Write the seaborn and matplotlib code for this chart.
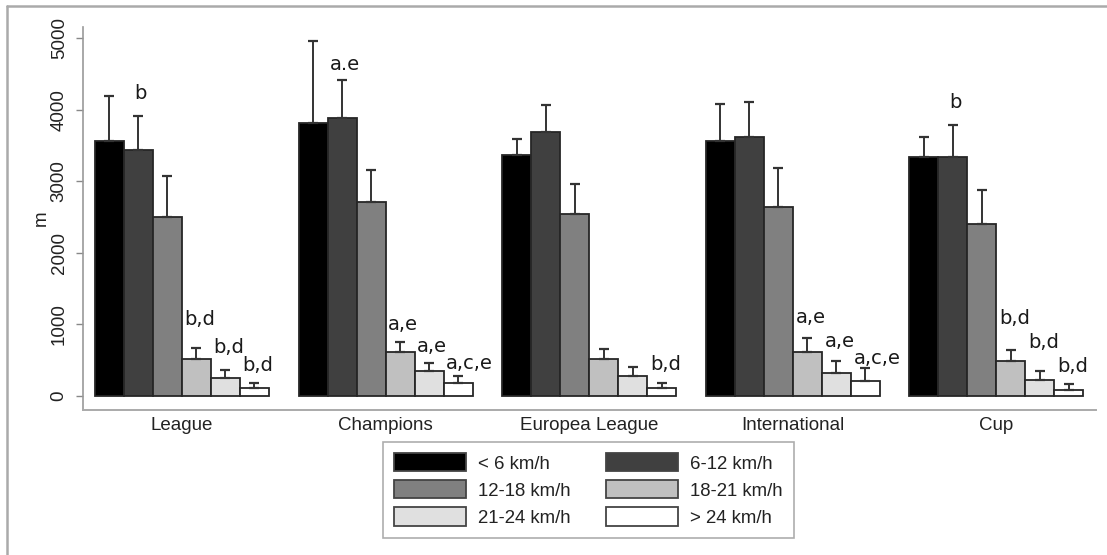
import matplotlib
matplotlib.use("Agg")
import matplotlib.pyplot as plt
from matplotlib.lines import Line2D
import numpy as np
import pandas as pd
import seaborn as sns

# Distance covered (m) per speed band in each competition: mean and SD
competitions = ["League", "Champions", "Europea League", "International", "Cup"]
speed_bands = ["< 6 km/h", "6-12 km/h", "12-18 km/h", "18-21 km/h", "21-24 km/h", "> 24 km/h"]

mean_lt6 = [3556, 3813, 3370, 3566, 3343]
mean_6_12 = [3440, 3883, 3687, 3613, 3343]
mean_12_18 = [2496, 2714, 2537, 2644, 2398]
mean_18_21 = [517, 610, 521, 615, 493]
mean_21_24 = [256, 349, 279, 321, 228]
mean_gt24 = [107, 177, 107, 209, 84]

sd_lt6 = [638, 1149, 215, 508, 279]
sd_6_12 = [471, 530, 373, 497, 447]
sd_12_18 = [577, 442, 420, 545, 479]
sd_18_21 = [158, 148, 135, 191, 149]
sd_21_24 = [107, 112, 130, 172, 126]
sd_gt24 = [70, 107, 70, 186, 84]

# Significance letters: (competition, speed band, text, baseline height in m)
sig_labels = [
    ("League", "6-12 km/h", "b", 4148),
    ("League", "18-21 km/h", "b,d", 992),
    ("League", "21-24 km/h", "b,d", 605),
    ("League", "> 24 km/h", "b,d", 353),
    ("Champions", "6-12 km/h", "a.e", 4553),
    ("Champions", "18-21 km/h", "a,e", 922),
    ("Champions", "21-24 km/h", "a,e", 619),
    ("Champions", "> 24 km/h", "a,c,e", 377),
    ("Europea League", "> 24 km/h", "b,d", 363),
    ("International", "18-21 km/h", "a,e", 1015),
    ("International", "21-24 km/h", "a,e", 689),
    ("International", "> 24 km/h", "a,c,e", 447),
    ("Cup", "6-12 km/h", "b", 4018),
    ("Cup", "18-21 km/h", "b,d", 1006),
    ("Cup", "21-24 km/h", "b,d", 665),
    ("Cup", "> 24 km/h", "b,d", 339),
]

y_ticks = [0, 1000, 2000, 3000, 4000, 5000]

means = [mean_lt6, mean_6_12, mean_12_18, mean_18_21, mean_21_24, mean_gt24]
sds = [sd_lt6, sd_6_12, sd_12_18, sd_18_21, sd_21_24, sd_gt24]

rows = []
for band, m_list, s_list in zip(speed_bands, means, sds):
    for comp, m, s in zip(competitions, m_list, s_list):
        rows.append({"competition": comp, "speed": band, "m": m, "sd": s})
df = pd.DataFrame(rows)

sns.set_theme(style="white")
plt.rcParams["font.family"] = ["Liberation Sans", "DejaVu Sans"]

grays = ["#000000", "#404040", "#808080", "#c0c0c0", "#e0e0e0", "#ffffff"]

fig = plt.figure(figsize=(11.07, 5.55), dpi=100)
ax = fig.add_axes([83 / 1107, 1 - 410 / 555, (1096 - 83) / 1107, (410 - 27) / 555])

sns.barplot(
    data=df, x="competition", y="m", hue="speed",
    order=competitions, hue_order=speed_bands,
    palette=grays, errorbar=None, width=0.855, gap=0,
    edgecolor="#262626", linewidth=1.3, saturation=1, legend=False, ax=ax,
)

# one-sided (upper) SD whiskers on each bar
for band, container in zip(speed_bands, ax.containers):
    sub = df[df["speed"] == band].set_index("competition").loc[competitions]
    xs = np.array([p.get_x() + p.get_width() / 2 for p in container.patches])
    ax.errorbar(
        xs, sub["m"].values, yerr=[np.zeros(len(xs)), sub["sd"].values],
        fmt="none", ecolor="#333333", elinewidth=1.4, capsize=3.6, capthick=1.6,
        zorder=3,
    )

# significance letters above whiskers
for comp, band, text, ypos in sig_labels:
    patch = ax.containers[speed_bands.index(band)].patches[competitions.index(comp)]
    xc = patch.get_x() + patch.get_width() / 2
    if len(text) == 1:
        ax.text(xc + 0.012, ypos, text, ha="center", va="baseline",
                fontsize=14, family="DejaVu Sans", color="#1a1a1a")
    else:
        ax.text(xc - 0.058, ypos, text, ha="left", va="baseline",
                fontsize=14, family="DejaVu Sans", color="#1a1a1a")

ax.set_xlim(-0.486, 4.489)
ax.set_ylim(-196, 5154)
ax.set_yticks(y_ticks)
ax.set_yticklabels([str(t) for t in y_ticks], rotation=90, va="center")
ax.set_xlabel("")
ax.set_ylabel("m", fontsize=13.5, color="#222222", labelpad=1)

ax.tick_params(axis="y", length=5, width=1, color="#888888", pad=6,
               labelsize=13.5, labelcolor="#222222", left=True)
ax.tick_params(axis="x", length=0, pad=5, labelsize=13.5, labelcolor="#222222")

for side in ["top", "right"]:
    ax.spines[side].set_visible(False)
ax.spines["left"].set_color("#999999")
ax.spines["left"].set_linewidth(1.2)
ax.spines["bottom"].set_color("#aaaaaa")
ax.spines["bottom"].set_linewidth(1.4)

# legend in two columns, filled row by row
handles = [plt.Rectangle((0, 0), 1, 1, facecolor=c, edgecolor="#444444", linewidth=1.3)
           for c in grays]
order = [0, 2, 4, 1, 3, 5]
leg = fig.legend(
    [handles[i] for i in order], [speed_bands[i] for i in order],
    ncol=2, loc="upper left", bbox_to_anchor=(383 / 1107, 1 - 442 / 555),
    borderaxespad=0, fontsize=13.4, handlelength=3.87, handleheight=1.13,
    handletextpad=0.65, labelspacing=0.41, columnspacing=1.9, borderpad=0.6,
    frameon=True, fancybox=False, edgecolor="#999999",
)
leg.get_frame().set_linewidth(1.2)
for t in leg.get_texts():
    t.set_color("#222222")

# outer figure border
fig.add_artist(Line2D([7 / 1107, 7 / 1107], [0, 1 - 6 / 555], color="#aaaaaa",
                      linewidth=1.8, transform=fig.transFigure))
fig.add_artist(Line2D([7 / 1107, 1], [1 - 6 / 555, 1 - 6 / 555], color="#aaaaaa",
                      linewidth=1.8, transform=fig.transFigure))

fig.savefig("out.png", dpi=100, facecolor="white")
